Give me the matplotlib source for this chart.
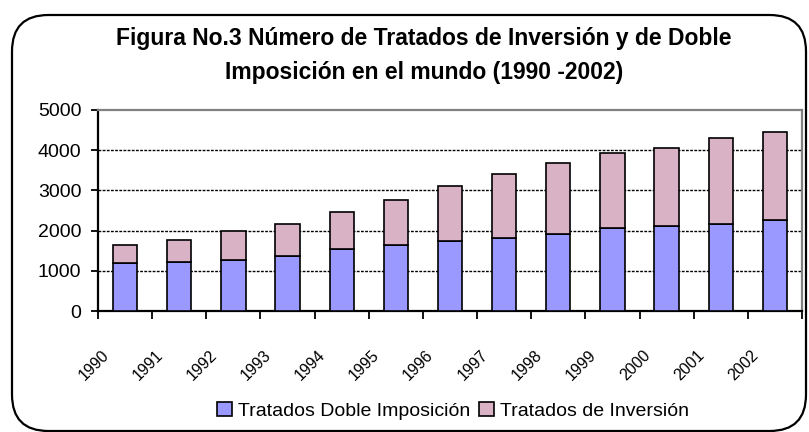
import matplotlib
matplotlib.use("Agg")
import matplotlib.pyplot as plt
from matplotlib.patches import FancyBboxPatch, Patch
from matplotlib.transforms import blended_transform_factory

years = ['1990', '1991', '1992', '1993', '1994', '1995', '1996',
         '1997', '1998', '1999', '2000', '2001', '2002']
doble_imposicion = [1190, 1230, 1270, 1380, 1530, 1630, 1730,
                    1820, 1920, 2070, 2120, 2170, 2270]
inversion = [440, 540, 710, 790, 930, 1140, 1390,
             1600, 1750, 1850, 1940, 2140, 2190]

BLUE = '#9999FF'
PINK = '#D9B2C6'

plt.rcParams['font.family'] = ['Liberation Sans', 'DejaVu Sans']

W, H = 809, 432
fig = plt.figure(figsize=(W / 100, H / 100), dpi=100)

# rounded chart frame
frame = FancyBboxPatch((12 / W, 1 - 431 / H), (806 - 12) / W, (431 - 15) / H,
                       boxstyle='round,pad=0,rounding_size=0.045',
                       transform=fig.transFigure, fill=False,
                       edgecolor='black', linewidth=1.6, mutation_aspect=W / H)
fig.patches.append(frame)

ax = fig.add_axes([98 / W, 1 - 311 / H, (802 - 98) / W, (311 - 110) / H])

x = list(range(len(years)))
ax.bar(x, doble_imposicion, width=0.45, color=BLUE, edgecolor='black',
       linewidth=1.2, zorder=3, label='Tratados Doble Imposición')
ax.bar(x, inversion, width=0.45, bottom=doble_imposicion, color=PINK,
       edgecolor='black', linewidth=1.2, zorder=3, label='Tratados de Inversión')

ax.set_xlim(-0.5, len(years) - 0.5)
ax.set_ylim(0, 5000)
ax.set_yticks([0, 1000, 2000, 3000, 4000, 5000])
ax.tick_params(axis='y', labelsize=14, length=5, width=1.3, pad=7)
ax.set_xticks([i - 0.5 for i in range(len(years) + 1)])
ax.set_xticklabels([])
ax.tick_params(axis='x', length=6, width=1.3, direction='out')

for y in [1000, 2000, 3000, 4000]:
    ax.axhline(y, color='black', linestyle=(0, (2, 1)), linewidth=1.0, zorder=1)

ax.spines['left'].set_linewidth(1.6)
ax.spines['bottom'].set_linewidth(1.6)
for s in ['top', 'right']:
    ax.spines[s].set_color('#808080')
    ax.spines[s].set_linewidth(1.6)

trans = blended_transform_factory(ax.transData, ax.transAxes)
for i, yr in enumerate(years):
    ax.text(i - 0.25, -0.18, yr, transform=trans, rotation=45,
            ha='right', va='top', fontsize=11.5)

fig.text(424 / W, 1 - 38 / H, 'Figura No.3 Número de Tratados de Inversión y de Doble',
         ha='center', va='center', fontsize=16.5, fontweight='bold')
fig.text(424 / W, 1 - 73 / H, 'Imposición en el mundo (1990 -2002)',
         ha='center', va='center', fontsize=16.5, fontweight='bold')

handles = [Patch(facecolor=BLUE, edgecolor='black', linewidth=1.2),
           Patch(facecolor=PINK, edgecolor='black', linewidth=1.2)]
fig.legend(handles, ['Tratados Doble Imposición', 'Tratados de Inversión'],
           loc='center', bbox_to_anchor=(453 / W, 1 - 411 / H), ncol=2,
           frameon=False, fontsize=14, handlelength=0.75, handleheight=0.75,
           handletextpad=0.3, columnspacing=0.5, borderaxespad=0)

fig.savefig('out.png', dpi=100)
